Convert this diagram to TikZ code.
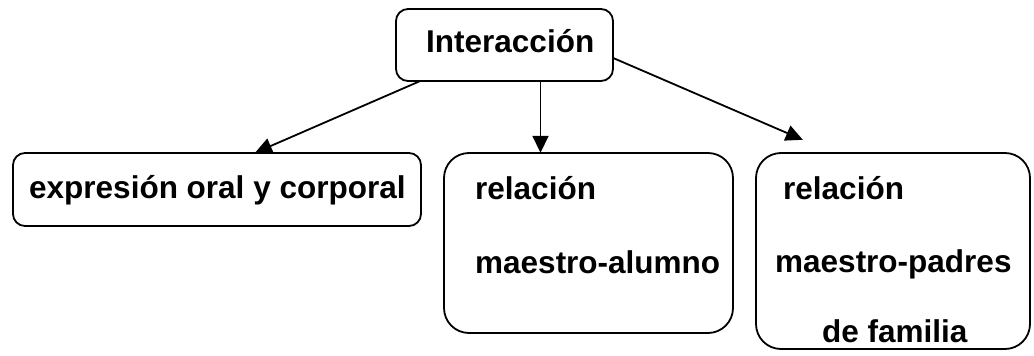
\documentclass[tikz,border=0pt]{standalone}
\usepackage{fontspec}
\setmainfont{Liberation Sans}
\usetikzlibrary{arrows.meta}
\begin{document}
\begin{tikzpicture}[x=1pt,y=-1pt,
  box/.style={draw=black,line width=1.8pt,rounded corners=#1,inner sep=0pt},
  box/.default=12pt,
  lbl/.style={anchor=base west,inner sep=0pt,font=\fontsize{31.5}{36}\selectfont\bfseries},
  conn/.style={line width=1.8pt,-{Triangle[length=17pt,width=16pt]}}]
\useasboundingbox (0,0) rectangle (1034,356);
% boxes
\draw[box] (396,9) rectangle (613,81);
\node[inner sep=0pt,minimum width=217pt,minimum height=72pt] (top) at (504.5,45) {};
\draw[box] (13,153) rectangle (421,226);
\node[inner sep=0pt,minimum width=408pt,minimum height=73pt] (expr) at (217,189.5) {};
\draw[box=25pt] (444,153) rectangle (733,333);
\node[inner sep=0pt,minimum width=289pt,minimum height=180pt] (ma) at (588.5,243) {};
\draw[box=25pt] (756,153) rectangle (1030,349);
\node[inner sep=0pt,minimum width=274pt,minimum height=196pt] (mp) at (893,251) {};
% texts
\node[lbl] (t1) at (426,52) {Interacción};
\node[lbl] (t2) at (29,198) {expresión oral y corporal};
\node[lbl] (t3) at (475,199) {relación};
\node[lbl] (t4) at (475,273) {maestro-alumno};
\node[lbl] (t5) at (783,199) {relación};
\node[lbl] (t6) at (775,272) {maestro-padres};
\node[lbl] (t7) at (822,342) {de familia};
% connectors
\draw[conn] ([xshift=24pt]top.south west) -- ([xshift=38pt]expr.north);
\draw[conn] ([xshift=36pt]top.south) -- ([xshift=-48pt]ma.north);
\draw[conn] ([yshift=-13pt]top.east) -- ([xshift=47pt,yshift=13pt]mp.north west);
\end{tikzpicture}
\end{document}
